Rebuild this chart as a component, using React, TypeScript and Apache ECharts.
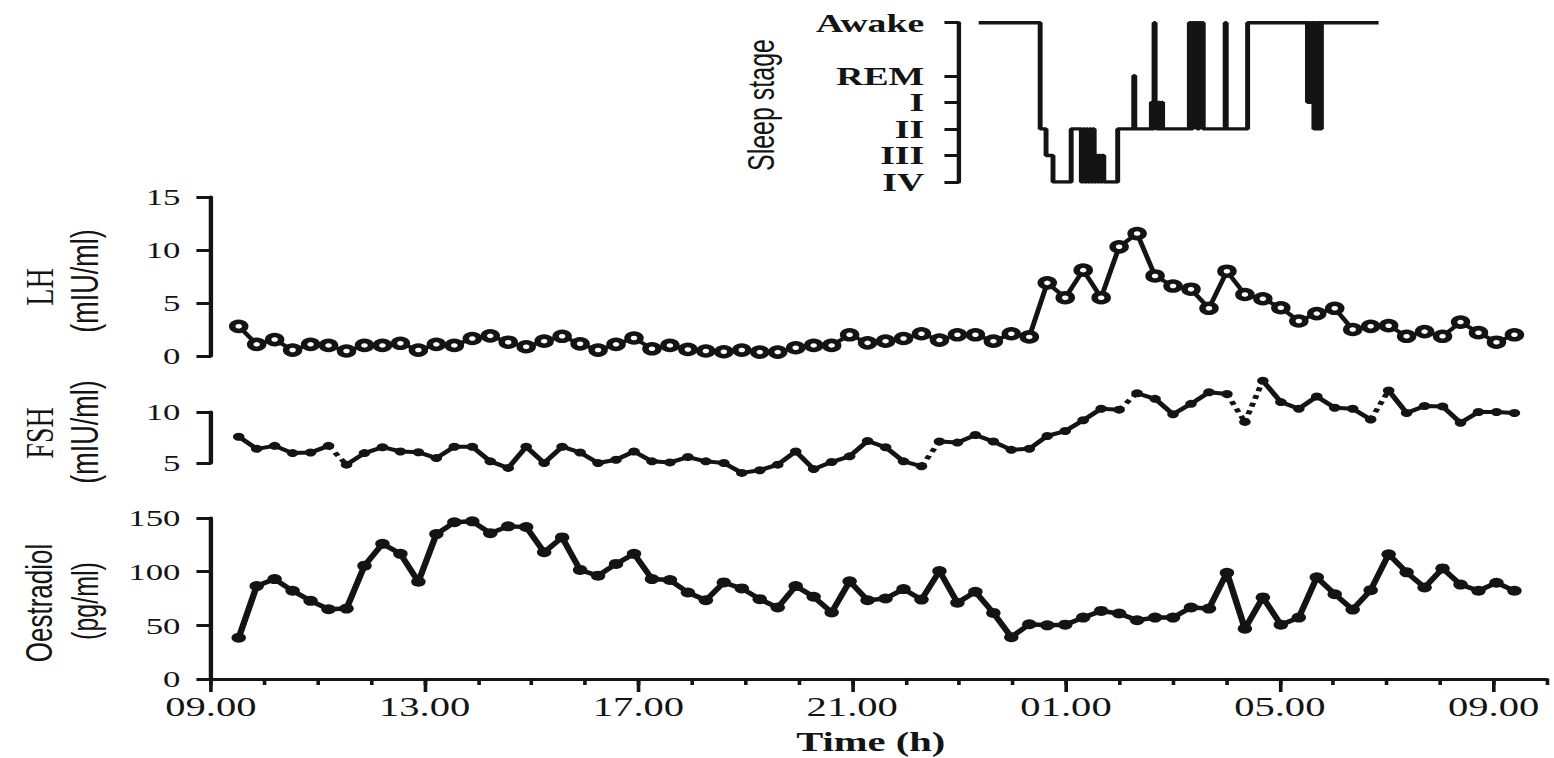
import React, { useEffect, useRef } from "react";
import * as echarts from "echarts";

// ---------------- DATA ----------------
// sampling: every ~20 min, first sample at 09:31 (hours after 09:00)
const SAMPLE_START_H = 0.52;
const SAMPLE_STEP_H = 0.3362;

const lhValues = [
  2.8, 1.1, 1.55, 0.56, 1.1, 1.0, 0.47, 1.0, 1.0, 1.2,
  0.56, 1.1, 1.0, 1.65, 1.9, 1.3, 0.87, 1.4, 1.86, 1.15,
  0.56, 1.1, 1.7, 0.68, 1.0, 0.62, 0.47, 0.4, 0.56, 0.37,
  0.37, 0.78, 1.0, 1.0, 2.0, 1.24, 1.4, 1.65, 2.1, 1.5,
  2.0, 2.0, 1.4, 2.1, 1.8, 6.9, 5.5, 8.1, 5.5, 10.3,
  11.55, 7.55, 6.6, 6.3, 4.5, 8.0, 5.8, 5.4, 4.55, 3.3,
  4.0, 4.5, 2.5, 2.8, 2.86, 1.86, 2.3, 1.86, 3.2, 2.2,
  1.3, 2.0,
];

const fshValues = [
  7.58, 6.39, 6.68, 5.97, 6.03, 6.68, 4.84, 5.97, 6.55, 6.13,
  6.06, 5.48, 6.6, 6.6, 5.16, 4.52, 6.6, 5.0, 6.6, 6.03,
  5.0, 5.32, 6.13, 5.16, 5.06, 5.58, 5.16, 5.0, 4.03, 4.29,
  4.84, 6.13, 4.4, 5.1, 5.65, 7.16, 6.55, 5.16, 4.68, 7.1,
  7.0, 7.74, 7.1, 6.29, 6.39, 7.65, 8.13, 9.19, 10.32, 10.23,
  11.84, 11.29, 9.77, 10.8, 11.94, 11.77, 9.03, 13.06, 10.97, 10.32,
  11.52, 10.42, 10.32, 9.26, 12.1, 9.9, 10.58, 10.55, 8.94, 10.0,
  10.0, 9.9,
];
// FSH segments drawn dotted (segment from sample k to k+1)
const fshDottedAfter = [5, 38, 49, 55, 56, 63];

const oestradiolValues = [
  38.4, 86.6, 93.1, 82.2, 72.8, 65, 65.6, 105.6, 125.9, 116.6,
  90.6, 135, 146, 146.9, 135.9, 142.2, 141.6, 118.1, 131.9, 101.6,
  96.25, 107.2, 116.6, 93.1, 92.2, 80.6, 73.4, 90, 84.4, 74.4,
  66.6, 86.6, 76.6, 62, 91, 73.4, 75, 83.75, 74, 100.6,
  71, 81.25, 61.6, 39, 51, 50, 50.6, 57.2, 63.4, 61,
  54.7, 57.2, 57.2, 66.6, 65.6, 99, 46.9, 76, 50.6, 57.2,
  94.7, 79, 64.7, 82.8, 116.25, 99.4, 85.3, 103, 88, 82.2,
  89.7, 82.2,
];

const sleepStages = ["IV", "III", "II", "I", "REM", "", "Awake"];
// [hours after 09:00, stage index] — stage held until next entry
const hypnogram: [number, number][] = [
  [14.37, 6], [15.52, 2], [15.63, 1], [15.76, 0], [16.1, 2], [16.29, 0],
  [16.32, 2], [16.35, 0], [16.38, 2], [16.41, 0], [16.44, 2], [16.47, 0], [16.5, 2], [16.53, 0],
  [16.56, 1], [16.59, 0], [16.62, 1], [16.65, 0], [16.68, 1], [16.71, 0],
  [16.97, 2], [17.27, 4], [17.29, 2],
  [17.6, 3], [17.63, 2], [17.65, 6], [17.67, 3], [17.7, 2], [17.73, 3], [17.76, 2], [17.79, 3], [17.81, 2],
  [18.31, 6], [18.34, 2], [18.37, 6], [18.4, 3], [18.43, 6], [18.46, 2], [18.49, 6], [18.52, 3], [18.55, 6], [18.57, 2],
  [18.98, 6], [19.0, 2],
  [19.4, 6],
  [20.52, 3], [20.55, 6], [20.58, 3], [20.61, 6], [20.64, 2], [20.67, 6], [20.7, 2], [20.73, 6], [20.76, 2], [20.78, 6],
  [21.85, 6],
];

const xTickLabels = ["09.00", "13.00", "17.00", "21.00", "01.00", "05.00", "09.00"];
const xMajorTicks = [0, 4, 8, 12, 16, 20, 24];
const lhTicks = { min: 0, max: 15, interval: 5 };
const fshTicks = { min: 5, max: 10, interval: 5 };
const oeTicks = { min: 0, max: 150, interval: 50 };

// ---------------- LAYOUT ----------------
const STRETCH = 1.4496; // the reference is horizontally stretched
const W = 1072;
const H = 758;
const INK = "#141414";
const SERIF = "'Liberation Serif', 'DejaVu Serif', serif";
const SANS = "'Liberation Sans', 'DejaVu Sans', sans-serif";

const sampleTimes = lhValues.map((_, i) => +(SAMPLE_START_H + i * SAMPLE_STEP_H).toFixed(4));

function buildOption() {
  const lhData = lhValues.map((v, i) => [sampleTimes[i], v]);
  const oeData = oestradiolValues.map((v, i) => [sampleTimes[i], v]);
  const fshSolid: any[] = [];
  const fshDotted: any[] = [];
  fshValues.forEach((v, i) => {
    fshSolid.push([sampleTimes[i], v]);
    if (fshDottedAfter.includes(i) && i + 1 < fshValues.length) {
      const mid = (sampleTimes[i] + sampleTimes[i + 1]) / 2;
      fshSolid.push([mid, "-"]);
      fshDotted.push([sampleTimes[i], v], [sampleTimes[i + 1], fshValues[i + 1]], [mid + 0.01, "-"]);
    }
  });

  const left = 145.5;
  const right = 4.8;
  const xBase = { type: "value", min: 0, max: 25 } as any;
  const hiddenX = (gridIndex: number, min = 0) => ({
    ...xBase,
    min,
    gridIndex,
    show: false,
    splitLine: { show: false },
  });
  const yCommon = (gridIndex: number, t: any) => ({
    type: "value",
    gridIndex,
    min: t.min,
    max: t.max,
    interval: t.interval,
    axisLine: { show: true, lineStyle: { color: INK, width: 3 } },
    axisTick: { show: true, length: 10, lineStyle: { color: INK, width: 3 } },
    axisLabel: { color: INK, fontFamily: SERIF, fontSize: 24, margin: 21 },
    splitLine: { show: false },
  });

  const rotText = (text: string, x: number, y: number, size: number, family: string, weight = "normal") => ({
    type: "text",
    x,
    y,
    rotation: Math.PI / 2,
    style: {
      text,
      fill: INK,
      font: `${weight} ${size}px ${family}`,
      align: "center",
      verticalAlign: "middle",
    },
  });

  return {
    animation: false,
    backgroundColor: "#ffffff",
    grid: [
      { left: 661.5, right, top: 22.7, height: 159.3 },
      { left, right, top: 197, height: 159 },
      { left, right, top: 412, height: 51 },
      { left, right, top: 518, height: 161 },
    ],
    xAxis: [
      hiddenX(0, 14),
      hiddenX(1),
      hiddenX(2),
      {
        ...xBase,
        gridIndex: 3,
        interval: 1,
        position: "bottom",
        axisLine: { show: true, lineStyle: { color: INK, width: 3 } },
        axisTick: { show: true, length: 6, lineStyle: { color: INK, width: 2.5 } },
        axisLabel: {
          color: INK,
          fontFamily: SERIF,
          fontSize: 28,
          margin: 14,
          formatter: (v: number) => {
            const i = xMajorTicks.indexOf(v);
            return i >= 0 ? xTickLabels[i] : "";
          },
        },
        splitLine: { show: false },
      },
      {
        ...xBase,
        gridIndex: 3,
        interval: 4,
        position: "bottom",
        axisLine: { show: false },
        axisTick: { show: true, length: 13, customValues: xMajorTicks, lineStyle: { color: INK, width: 2.5 } },
        axisLabel: { show: false },
        splitLine: { show: false },
      },
    ],
    yAxis: [
      {
        type: "category",
        gridIndex: 0,
        data: sleepStages,
        boundaryGap: false,
        axisLine: { show: true, lineStyle: { color: INK, width: 3 } },
        axisTick: {
          show: true,
          length: 10,
          interval: (_i: number, v: string) => v !== "",
          lineStyle: { color: INK, width: 3 },
        },
        axisLabel: {
          interval: 0,
          color: INK,
          fontFamily: SERIF,
          fontWeight: "bold",
          fontSize: 26,
          lineHeight: 24,
          margin: 24,
        },
        splitLine: { show: false },
      },
      yCommon(1, lhTicks),
      yCommon(2, fshTicks),
      yCommon(3, oeTicks),
    ],
    series: [
      {
        name: "Sleep stage",
        type: "line",
        xAxisIndex: 0,
        yAxisIndex: 0,
        step: "start",
        data: hypnogram,
        showSymbol: false,
        lineStyle: { color: INK, width: 3.4 },
        clip: false,
      },
      {
        name: "LH",
        type: "line",
        xAxisIndex: 1,
        yAxisIndex: 1,
        data: lhData,
        symbol: "circle",
        symbolSize: 9,
        itemStyle: { color: "#ffffff", borderColor: INK, borderWidth: 4.5 },
        lineStyle: { color: INK, width: 3.5 },
        clip: false,
      },
      {
        name: "FSH",
        type: "line",
        xAxisIndex: 2,
        yAxisIndex: 2,
        data: fshSolid,
        symbol: "circle",
        symbolSize: 8,
        itemStyle: { color: INK },
        lineStyle: { color: INK, width: 4 },
        clip: false,
      },
      {
        name: "FSH dotted",
        type: "line",
        xAxisIndex: 2,
        yAxisIndex: 2,
        data: fshDotted,
        showSymbol: false,
        lineStyle: { color: INK, width: 4, type: "dotted" },
        clip: false,
      },
      {
        name: "Oestradiol",
        type: "line",
        xAxisIndex: 3,
        yAxisIndex: 3,
        data: oeData,
        symbol: "circle",
        symbolSize: 10,
        itemStyle: { color: INK },
        lineStyle: { color: INK, width: 4.5 },
        clip: false,
      },
    ],
    graphic: [
      {
        type: "text",
        x: 600.7,
        y: 742,
        style: {
          text: "Time (h)",
          fill: INK,
          font: `bold 28px ${SERIF}`,
          align: "center",
          verticalAlign: "middle",
        },
      },
      rotText("Sleep stage", 525.6, 105, 25, SANS),
      rotText("LH", 27.6, 287, 28, SERIF),
      rotText("(mIU/ml)", 58.6, 281, 27, SANS),
      rotText("FSH", 27.6, 433, 28, SERIF),
      rotText("(mIU/ml)", 58.6, 432, 27, SANS),
      rotText("Oestradiol", 27, 603, 26, SANS),
      rotText("(pg/ml)", 59, 601, 25, SANS),
    ],
  };
}

export default function App() {
  const ref = useRef<HTMLDivElement | null>(null);
  useEffect(() => {
    if (!ref.current) return;
    const chart = echarts.init(ref.current, null, { renderer: "svg" });
    chart.setOption(buildOption() as any);
    return () => chart.dispose();
  }, []);
  return (
    <div
      ref={ref}
      style={{
        position: "fixed",
        left: 0,
        top: 0,
        width: W,
        height: H,
        transform: `scaleX(${STRETCH})`,
        transformOrigin: "0 0",
        background: "#ffffff",
      }}
    />
  );
}
